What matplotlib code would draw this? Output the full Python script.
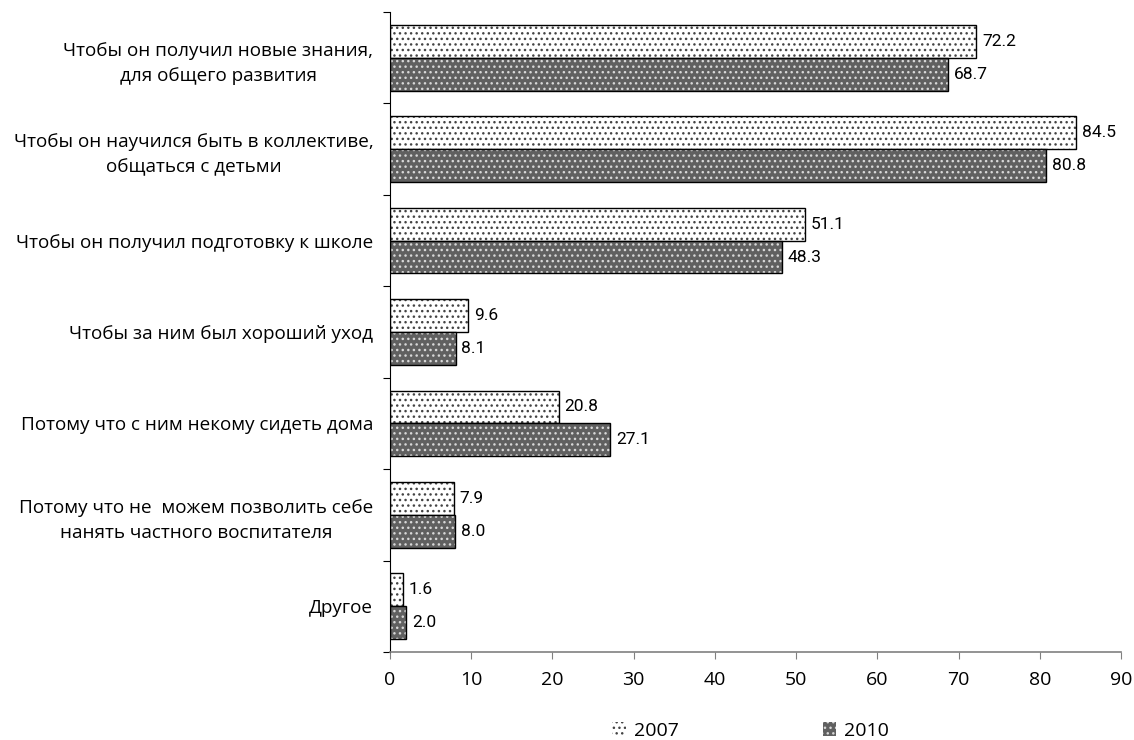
import numpy as np
import matplotlib
matplotlib.use('Agg')
import matplotlib.pyplot as plt
from matplotlib.patches import Patch

plt.rcParams['font.family'] = ['Open Sans', 'DejaVu Sans']
plt.rcParams['hatch.linewidth'] = 1.0

# data
categories = ['Чтобы он получил новые знания,\nдля общего развития',
              'Чтобы он научился быть в коллективе,\nобщаться с детьми',
              'Чтобы он получил подготовку к школе',
              'Чтобы за ним был хороший уход',
              'Потому что с ним некому сидеть дома',
              'Потому что не  можем позволить себе\nнанять частного воспитателя',
              'Другое']
v2007 = [72.2, 84.5, 51.1, 9.6, 20.8, 7.9, 1.6]
v2010 = [68.7, 80.8, 48.3, 8.1, 27.1, 8.0, 2.0]
series = ['2007', '2010']
xticks = [0, 10, 20, 30, 40, 50, 60, 70, 80, 90]

fig = plt.figure(figsize=(11.34, 7.4), dpi=100)
ax = fig.add_axes([390/1134, 1-652/740, 731/1134, 640/740])

y = np.arange(len(categories))
h = 0.36

# 2007: white with grey dots
ax.barh(y - h/2, v2007, height=h, facecolor='white', edgecolor='#444444',
        hatch='...', lw=0)
ax.barh(y - h/2, v2007, height=h, fill=False, edgecolor='black', lw=1)
# 2010: dark grey with white dots
ax.barh(y + h/2, v2010, height=h, facecolor='#606060', edgecolor='#d8d8d8',
        hatch='...', lw=0)
ax.barh(y + h/2, v2010, height=h, fill=False, edgecolor='black', lw=1)

lab_font = ['Liberation Sans Narrow', 'Roboto', 'DejaVu Sans']
for i in range(len(categories)):
    ax.text(v2007[i] + 0.7, y[i] - h/2, '%.1f' % v2007[i], va='center', ha='left',
            fontsize=12.5, family=lab_font)
    ax.text(v2010[i] + 0.7, y[i] + h/2, '%.1f' % v2010[i], va='center', ha='left',
            fontsize=12.5, family=lab_font)

ax.set_xlim(0, 90)
ax.set_ylim(len(categories) - 0.5, -0.5)
ax.set_xticks(xticks)
ax.set_xticklabels([str(t) for t in xticks], fontsize=14)
ax.tick_params(axis='x', direction='out', length=5, color='#808080', pad=9)

# category labels on minor ticks, boundary ticks on major
ax.set_yticks(np.arange(len(categories) + 1) - 0.5)
ax.set_yticklabels([])
ax.set_yticks(y, minor=True)
ax.set_yticklabels(categories, minor=True, fontsize=13.6, multialignment='center',
                   linespacing=1.5)
ax.tick_params(axis='y', which='minor', length=0, pad=12)
ax.tick_params(axis='y', which='major', direction='out', length=5, color='black')

for s in ['top', 'right']:
    ax.spines[s].set_visible(False)
ax.spines['bottom'].set_color('#808080')
ax.spines['bottom'].set_linewidth(1.2)
ax.spines['left'].set_color('black')

handles = [Patch(facecolor='white', edgecolor='#444444', hatch='...', lw=0),
           Patch(facecolor='#606060', edgecolor='#d8d8d8', hatch='...', lw=0)]
fig.legend(handles, series, loc='center', bbox_to_anchor=(0.662, 1-731/740),
           ncol=2, frameon=False, fontsize=14, handlelength=0.7, handleheight=0.7,
           handletextpad=0.4, columnspacing=7.4)

fig.savefig('out.png', dpi=100)
